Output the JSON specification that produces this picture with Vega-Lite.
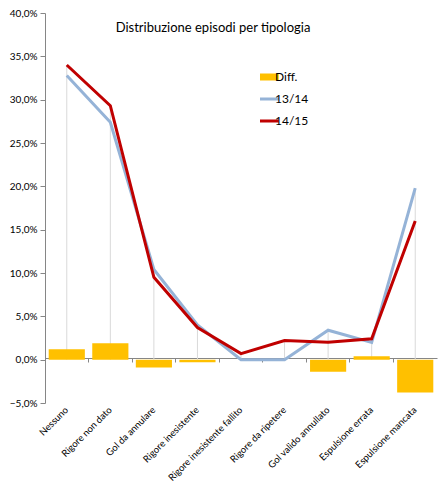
{
  "$schema": "https://vega.github.io/schema/vega-lite/v6.json",
  "width": 392,
  "height": 390,
  "autosize": {"type": "none"},
  "padding": {"left": 45, "top": 13, "right": 5, "bottom": 93},
  "background": "white",
  "title": {
    "text": "Distribuzione episodi  per tipologia",
    "offset": -27,
    "dx": -28,
    "font": "Lato",
    "fontSize": 13,
    "fontWeight": "normal",
    "color": "#000000"
  },
  "config": {
    "locale": {"number": {"decimal": ",", "thousands": ".", "grouping": [3], "currency": ["€", ""]}},
    "view": {"stroke": null},
    "font": "Lato"
  },
  "data": {
    "values": [
      {"cat": "Nessuno", "series": "13/14", "value": 0.328},
      {"cat": "Rigore non dato", "series": "13/14", "value": 0.274},
      {"cat": "Gol da annulare", "series": "13/14", "value": 0.104},
      {"cat": "Rigore inesistente", "series": "13/14", "value": 0.040},
      {"cat": "Rigore inesistente fallito", "series": "13/14", "value": 0.0},
      {"cat": "Rigore da ripetere", "series": "13/14", "value": 0.0},
      {"cat": "Gol valido annullato", "series": "13/14", "value": 0.034},
      {"cat": "Espulsione errata", "series": "13/14", "value": 0.020},
      {"cat": "Espulsione mancata", "series": "13/14", "value": 0.198},
      {"cat": "Nessuno", "series": "14/15", "value": 0.340},
      {"cat": "Rigore non dato", "series": "14/15", "value": 0.293},
      {"cat": "Gol da annulare", "series": "14/15", "value": 0.095},
      {"cat": "Rigore inesistente", "series": "14/15", "value": 0.037},
      {"cat": "Rigore inesistente fallito", "series": "14/15", "value": 0.007},
      {"cat": "Rigore da ripetere", "series": "14/15", "value": 0.022},
      {"cat": "Gol valido annullato", "series": "14/15", "value": 0.020},
      {"cat": "Espulsione errata", "series": "14/15", "value": 0.024},
      {"cat": "Espulsione mancata", "series": "14/15", "value": 0.160},
      {"cat": "Nessuno", "series": "Diff.", "value": 0.012},
      {"cat": "Rigore non dato", "series": "Diff.", "value": 0.019},
      {"cat": "Gol da annulare", "series": "Diff.", "value": -0.009},
      {"cat": "Rigore inesistente", "series": "Diff.", "value": -0.003},
      {"cat": "Gol valido annullato", "series": "Diff.", "value": -0.014},
      {"cat": "Espulsione errata", "series": "Diff.", "value": 0.004},
      {"cat": "Espulsione mancata", "series": "Diff.", "value": -0.038}
    ]
  },
  "resolve": {"axis": {"x": "independent"}},
  "layer": [
    {
      "transform": [
        {"filter": "datum.series !== 'Diff.'"},
        {"aggregate": [{"op": "max", "field": "value", "as": "top"}], "groupby": ["cat"]}
      ],
      "mark": {"type": "rule", "color": "#D9D9D9", "strokeWidth": 1},
      "encoding": {
        "x": {
          "field": "cat", "type": "nominal", "sort": null, "title": null,
          "scale": {"paddingInner": 0.17, "paddingOuter": 0.085},
          "axis": {
            "orient": "bottom", "domain": false, "ticks": false, "labelAngle": -45,
            "labelAlign": "right", "labelBaseline": "middle", "labelPadding": 5,
            "labelFont": "Lato", "labelFontSize": 9.5, "labelColor": "#000000", "labelLimit": 200
          }
        },
        "y": {"field": "top", "type": "quantitative"},
        "y2": {"datum": 0}
      }
    },
    {
      "transform": [{"filter": "datum.series === 'Diff.'"}],
      "mark": {"type": "bar"},
      "encoding": {
        "x": {
          "field": "cat", "type": "nominal", "sort": null, "title": null,
          "axis": {
            "orient": "bottom", "offset": -45, "labels": false, "domain": true,
            "domainColor": "#868686", "ticks": true, "tickColor": "#868686", "tickSize": 4,
            "bandPosition": -0.1, "grid": false
          }
        },
        "y": {
          "field": "value", "type": "quantitative", "title": null,
          "scale": {"domain": [-0.05, 0.4], "nice": false, "zero": false},
          "axis": {
            "values": [-0.05, 0, 0.05, 0.1, 0.15, 0.2, 0.25, 0.3, 0.35, 0.4],
            "format": ".1%", "grid": false, "domainColor": "#868686", "tickColor": "#868686",
            "tickSize": 5, "labelFont": "Lato", "labelFontSize": 10, "labelColor": "#000000", "labelPadding": 3
          }
        },
        "y2": {"datum": 0},
        "color": {
          "field": "series", "type": "nominal",
          "scale": {"domain": ["Diff.", "13/14", "14/15"], "range": ["#FFC000", "#95B3D7", "#C00000"]},
          "legend": {
            "title": null, "orient": "none", "legendX": 215, "legendY": 57,
            "symbolType": "stroke", "symbolSize": 650, "symbolStrokeWidth": 3,
            "clipHeight": 14, "rowPadding": 8, "labelFont": "Lato", "labelFontSize": 12, "labelColor": "#000000",
            "labelOffset": 3,
            "values": ["Diff.", "13/14", "14/15"],
            "encode": {"symbols": {"update": {"strokeWidth": {"signal": "datum.value === 'Diff.' ? 7 : 3"}}}}
          }
        }
      }
    },
    {
      "transform": [{"filter": "datum.series !== 'Diff.'"}],
      "mark": {"type": "line", "strokeWidth": 3, "strokeJoin": "miter"},
      "encoding": {
        "x": {"field": "cat", "type": "nominal", "sort": null, "axis": null},
        "y": {"field": "value", "type": "quantitative"},
        "color": {
          "field": "series", "type": "nominal",
          "legend": {
            "title": null, "orient": "none", "legendX": 215, "legendY": 57,
            "symbolType": "stroke", "symbolSize": 650, "symbolStrokeWidth": 3,
            "clipHeight": 14, "rowPadding": 8, "labelFont": "Lato", "labelFontSize": 12, "labelColor": "#000000",
            "labelOffset": 3,
            "values": ["Diff.", "13/14", "14/15"],
            "encode": {"symbols": {"update": {"strokeWidth": {"signal": "datum.value === 'Diff.' ? 7 : 3"}}}}
          }
        }
      }
    }
  ]
}
